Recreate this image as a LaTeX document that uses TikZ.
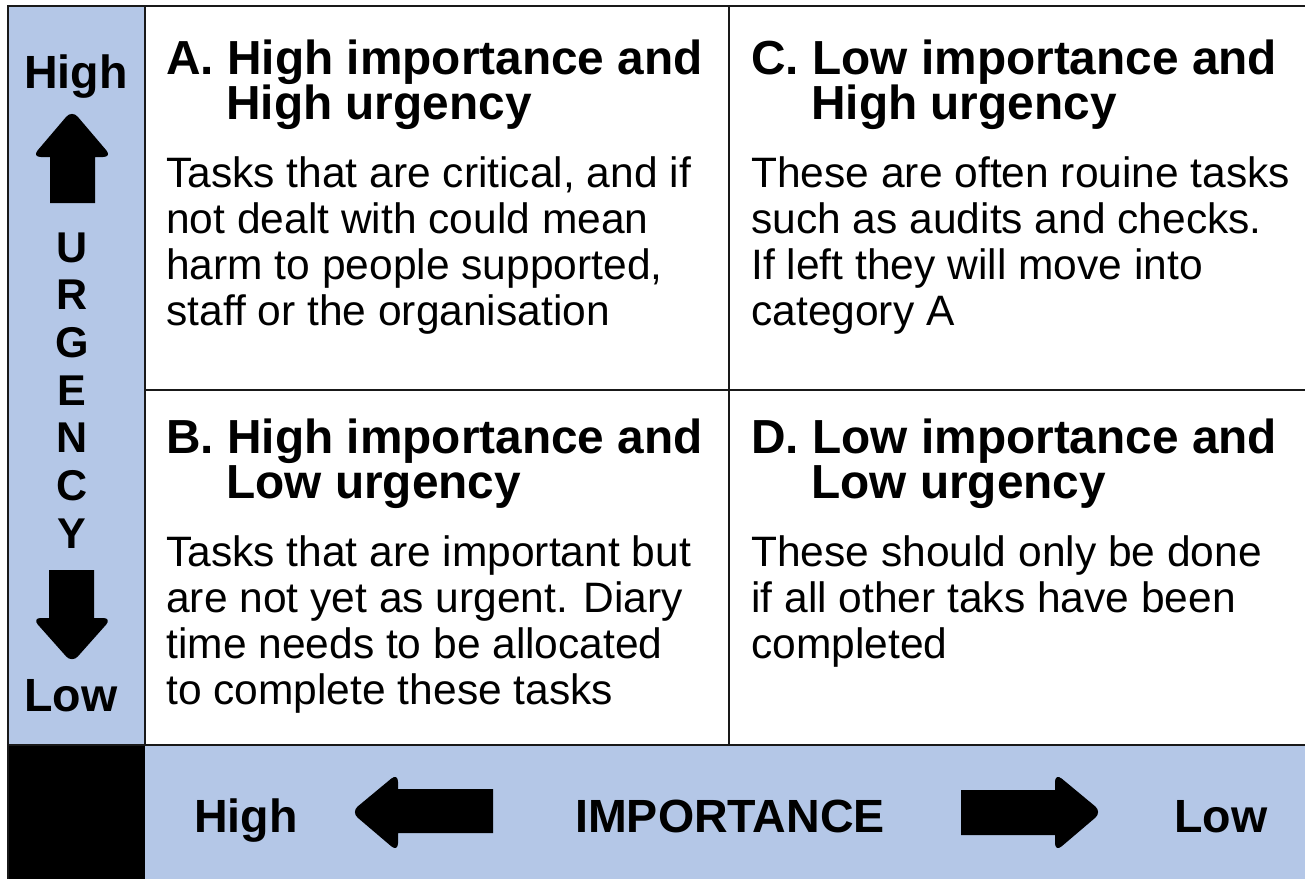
\documentclass[tikz,border=0pt]{standalone}
\usepackage{fontspec}
\setmainfont{Liberation Sans}
\definecolor{gridblue}{RGB}{180,199,231}

\begin{document}
\begin{tikzpicture}[x=0.02cm, y=-0.02cm,
    gridline/.style={draw=black!90, line width=1.4pt},
    headfont/.style={font=\fontsize{27.2}{30}\selectfont\bfseries, inner sep=0pt, anchor=base west},
    bodyfont/.style={font=\fontsize{24.2}{28}\selectfont, inner sep=0pt, anchor=base west},
    axisfont/.style={font=\fontsize{26.5}{30}\selectfont\bfseries, inner sep=0pt, anchor=base},
    bigarrow/.style={fill=black}
  ]
    \clip (0,0) rectangle (1305,879);
    \fill[white] (0,0) rectangle (1305,879);

    % Axis bands
    \fill[gridblue] (8,6) rectangle (145,745);
    \fill[gridblue] (145,745) rectangle (1320,890);
    \fill[black] (8,745) rectangle (145,890);

    % Grid lines
    \draw[gridline] (1320,6) -- (8,6) -- (8,890);
    \draw[gridline] (145,6) -- (145,745);
    \draw[gridline] (729,6) -- (729,745);
    \draw[gridline] (145,390) -- (1320,390);
    \draw[gridline] (8,745) -- (1320,745);

    % Quadrant A
    \node[headfont] (titleA) at (166,74)  {A. High importance and};
    \node[headfont] (titleA2) at (226,119) {High urgency};
    \foreach \txt [count=\i from 0] in {{Tasks that are critical, and if},
        not dealt with could mean, {harm to people supported,},
        staff or the organisation}
      \node[bodyfont] (bodyA\i) at (166,187+46.3*\i) {\txt};

    % Quadrant B
    \node[headfont] (titleB) at (166,453)  {B. High importance and};
    \node[headfont] (titleB2) at (226,498) {Low urgency};
    \foreach \txt [count=\i from 0] in {Tasks that are important but,
        {are not yet as urgent. Diary}, time needs to be allocated,
        to complete these tasks}
      \node[bodyfont] (bodyB\i) at (166,566+46.3*\i) {\txt};

    % Quadrant C
    \node[headfont] (titleC) at (751,74)  {C. Low importance and};
    \node[headfont] (titleC2) at (811,119) {High urgency};
    \foreach \txt [count=\i from 0] in {These are often rouine tasks,
        {such as audits and checks.}, If left they will move into,
        category A}
      \node[bodyfont] (bodyC\i) at (751,187+46.3*\i) {\txt};

    % Quadrant D
    \node[headfont] (titleD) at (751,453)  {D. Low importance and};
    \node[headfont] (titleD2) at (811,498) {Low urgency};
    \foreach \txt [count=\i from 0] in {These should only be done,
        if all other taks have been, completed}
      \node[bodyfont] (bodyD\i) at (751,566+46.3*\i) {\txt};

    % Urgency axis
    \node[axisfont] (urgHigh) at (76,88)  {High};
    \node[axisfont] (urgLow)  at (71,711) {Low};
    \foreach \ch [count=\i from 0] in {U,R,G,E,N,C,Y}
      \node[axisfont, font=\fontsize{24.5}{28}\selectfont\bfseries] (urg\i) at (72,262+47.7*\i) {\ch};
    \fill[bigarrow] (50,203) -- (50,157) [rounded corners=5pt] -- (32,157) -- (72,110)
      -- (112,157) [sharp corners] -- (95,157) -- (95,203) -- cycle;
    \fill[bigarrow] (49,570) -- (49,618) [rounded corners=5pt] -- (32,618) -- (72,663)
      -- (112,618) [sharp corners] -- (94,618) -- (94,570) -- cycle;

    % Importance axis
    \node[axisfont] (impHigh) at (246,832)  {High};
    \node[axisfont] (impLabel) at (730,832) {IMPORTANCE};
    \node[axisfont] (impLow)  at (1221,832) {Low};
    \fill[bigarrow] (493,789) -- (398,789) [rounded corners=5pt] -- (398,773) -- (351,812)
      -- (398,852) [sharp corners] -- (398,833) -- (493,833) -- cycle;
    \fill[bigarrow] (961,790) -- (1055,790) [rounded corners=5pt] -- (1055,773) -- (1102,812)
      -- (1055,852) [sharp corners] -- (1055,835) -- (961,835) -- cycle;
  \end{tikzpicture}
\end{document}
